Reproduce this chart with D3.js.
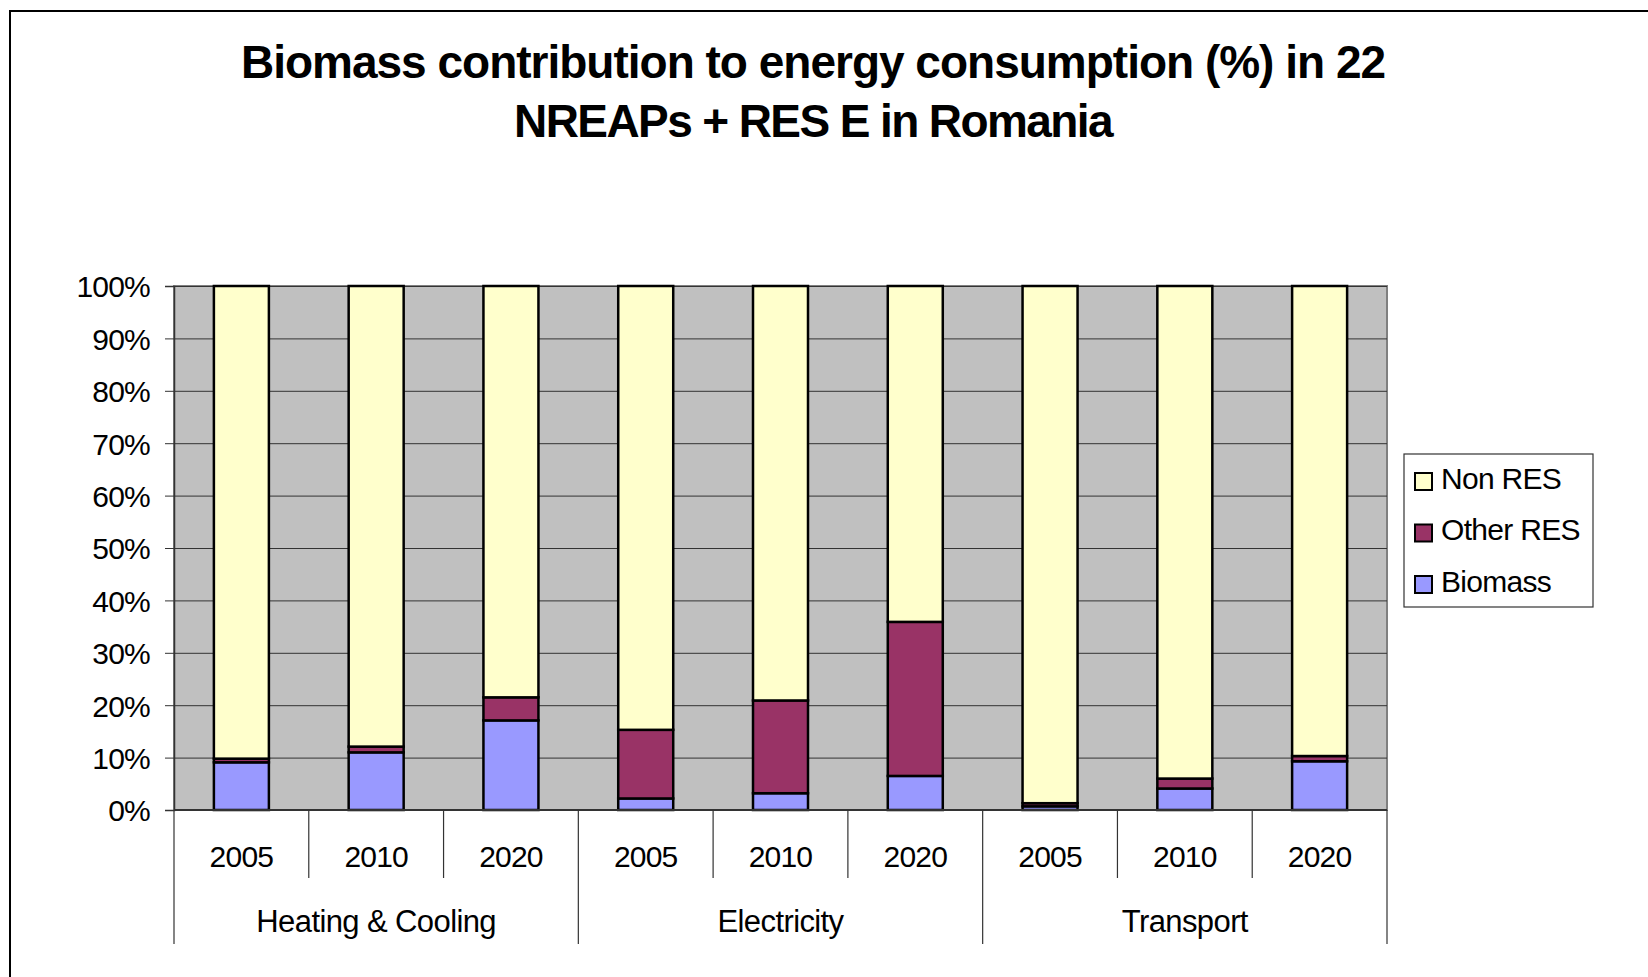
<!DOCTYPE html>
<html>
    <head>
        <meta charset="utf-8">
        <title>Biomass contribution</title>
        <style>
         body { margin: 0; background: #fff; }
         text { font-family: "Liberation Sans", Arial, sans-serif; }
        </style>
    </head>
    <body>
        <div id="chart"></div>
        <script src="https://d3js.org/d3.v7.min.js"></script>
        <script>
         // values (percent of consumption)
         var groups = ["Heating & Cooling", "Electricity", "Transport"]
         var years = ["2005", "2010", "2020"]
         var biomass  = [9.1, 11.0, 17.1, 2.2, 3.2, 6.5, 0.7, 4.1, 9.3]
         var otherRes = [0.7, 1.1, 4.4, 13.1, 17.7, 29.4, 0.6, 1.9, 1.0]
         var nonRes = biomass.map(function(b, i){ return 100 - b - otherRes[i] })
         var seriesKeys = ["Biomass", "Other RES", "Non RES"]
         var seriesColors = {"Biomass": "#9999ff", "Other RES": "#993366", "Non RES": "#ffffcc"}
         var legendOrder = ["Non RES", "Other RES", "Biomass"]
         var yTicks = [0, 10, 20, 30, 40, 50, 60, 70, 80, 90, 100]

         var rows = []
         groups.forEach(function(g, gi){
             years.forEach(function(yr, yi){
                 var i = gi * years.length + yi
                 rows.push({"idx": i, "group": g, "year": yr,
                            "Biomass": biomass[i], "Other RES": otherRes[i], "Non RES": nonRes[i]})
             })
         })

         var W = 1648, H = 977
         var plot = {left: 174, right: 1387, top: 286, bottom: 810}

         var svg = d3.select("#chart").append("svg")
                     .attr("width", W).attr("height", H)

         svg.append("rect").attr("width", W).attr("height", H).attr("fill", "#fff")
         // outer frame (runs off the right and bottom of the page)
         svg.append("rect")
            .attr("x", 10).attr("y", 11).attr("width", W + 20).attr("height", H + 20)
            .attr("fill", "none").attr("stroke", "#000").attr("stroke-width", 2)

         var title = svg.append("text")
                        .attr("text-anchor", "middle")
                        .attr("font-size", 46).attr("font-weight", "bold")
         title.append("tspan").attr("x", 813).attr("y", 78).attr("letter-spacing", -1)
              .text("Biomass contribution to energy consumption (%) in 22")
         title.append("tspan").attr("x", 813).attr("y", 137).attr("letter-spacing", -1.6)
              .text("NREAPs + RES E in Romania")

         var x = d3.scaleBand()
                   .domain(rows.map(function(d){ return d.idx }))
                   .range([plot.left, plot.right])
                   .paddingInner(0).paddingOuter(0)
         var barW = 55
         var y = d3.scaleLinear().domain([0, 100]).range([plot.bottom, plot.top])

         // plot background
         svg.append("rect")
            .attr("x", plot.left).attr("y", plot.top)
            .attr("width", plot.right - plot.left).attr("height", plot.bottom - plot.top)
            .attr("fill", "#c0c0c0").attr("stroke", "#808080").attr("stroke-width", 2)

         // gridlines
         svg.append("g")
            .attr("transform", "translate(" + plot.left + ",0)")
            .call(d3.axisLeft(y).tickValues(yTicks.slice(1)).tickSize(-(plot.right - plot.left)).tickFormat(""))
            .call(function(g){
                g.select(".domain").remove()
                g.selectAll("line").attr("stroke", "#333").attr("stroke-width", 1)
            })

         var stacked = d3.stack().keys(seriesKeys)(rows)

         svg.append("g").selectAll("g")
            .data(stacked)
            .enter().append("g")
            .attr("fill", function(s){ return seriesColors[s.key] })
            .selectAll("rect")
            .data(function(s){ return s })
            .enter().append("rect")
            .attr("x", function(d){ return x(d.data.idx) + (x.bandwidth() - barW) / 2 })
            .attr("width", barW)
            .attr("y", function(d){ return y(d[1]) })
            .attr("height", function(d){ return y(d[0]) - y(d[1]) })
            .attr("stroke", "#000").attr("stroke-width", 2.5)

         // y axis
         svg.append("g")
            .attr("transform", "translate(" + plot.left + ",0)")
            .call(d3.axisLeft(y).tickValues(yTicks).tickSize(9).tickPadding(15)
                    .tickFormat(function(d){ return d + "%" }))
            .call(function(g){
                g.select(".domain").attr("stroke", "#333").attr("stroke-width", 1.5)
                g.selectAll("line").attr("stroke", "#333")
                g.selectAll("text").attr("font-size", 30).attr("letter-spacing", -0.8)
                 .attr("font-family", "Liberation Sans, Arial, sans-serif")
                 .attr("fill", "#000").attr("dy", "0.36em")
            })

         // x axis line
         svg.append("line")
            .attr("x1", plot.left).attr("x2", plot.right)
            .attr("y1", plot.bottom).attr("y2", plot.bottom)
            .attr("stroke", "#333").attr("stroke-width", 2)

         // category separators
         var bounds = d3.range(rows.length + 1)
         svg.append("g").selectAll("line")
            .data(bounds)
            .enter().append("line")
            .attr("x1", function(i){ return plot.left + i * x.step() })
            .attr("x2", function(i){ return plot.left + i * x.step() })
            .attr("y1", plot.bottom)
            .attr("y2", function(i){ return i % years.length === 0 ? 944 : 878 })
            .attr("stroke", "#333").attr("stroke-width", 1.2)

         svg.append("g").selectAll("text")
            .data(rows)
            .enter().append("text")
            .attr("x", function(d){ return x(d.idx) + x.bandwidth() / 2 })
            .attr("y", 867)
            .attr("text-anchor", "middle")
            .attr("font-size", 30).attr("letter-spacing", -0.8)
            .text(function(d){ return d.year })

         svg.append("g").selectAll("text")
            .data(groups)
            .enter().append("text")
            .attr("x", function(g, gi){ return plot.left + (gi + 0.5) * years.length * x.step() })
            .attr("y", 932)
            .attr("text-anchor", "middle")
            .attr("font-size", 31).attr("letter-spacing", -0.6)
            .text(function(g){ return g })

         // legend
         var legend = svg.append("g")
         legend.append("rect")
               .attr("x", 1404).attr("y", 454).attr("width", 189).attr("height", 153)
               .attr("fill", "#fff").attr("stroke", "#333").attr("stroke-width", 1.2)
         var item = legend.selectAll("g.item")
                          .data(legendOrder)
                          .enter().append("g")
                          .attr("class", "item")
                          .attr("transform", function(k, i){ return "translate(1415," + (473 + i * 51.5) + ")" })
         item.append("rect")
             .attr("width", 17).attr("height", 17)
             .attr("fill", function(k){ return seriesColors[k] })
             .attr("stroke", "#000").attr("stroke-width", 2)
         item.append("text")
             .attr("x", 26).attr("y", 15.5)
             .attr("font-size", 30).attr("letter-spacing", -0.7)
             .text(function(k){ return k })
        </script>
    </body>
</html>
